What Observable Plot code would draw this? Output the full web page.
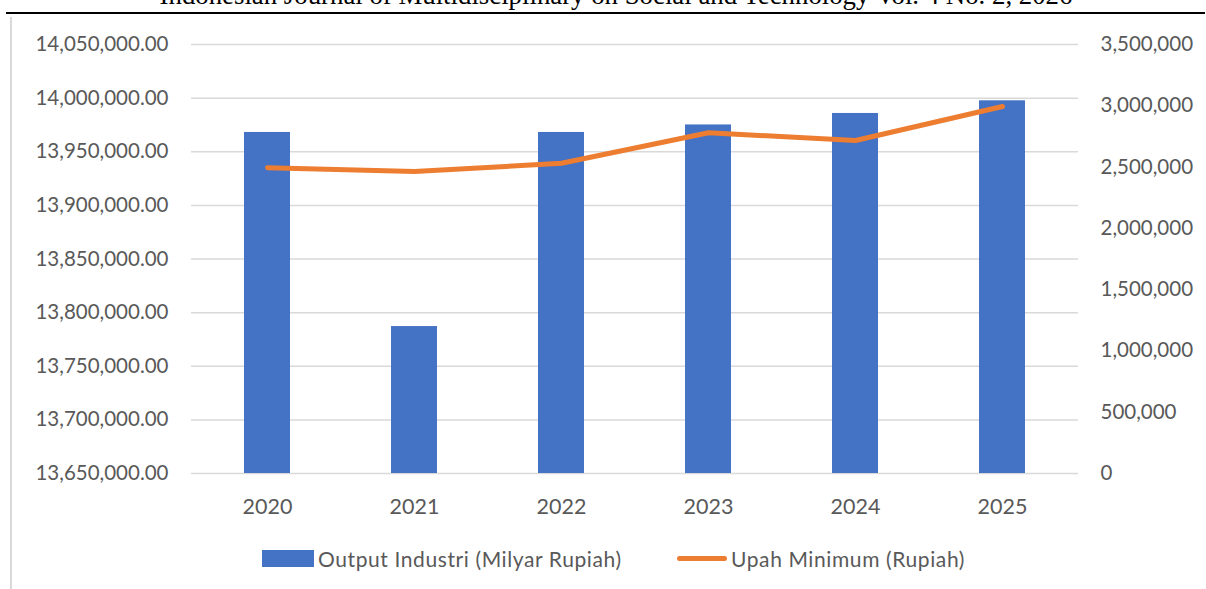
<!DOCTYPE html>
<html>
<head>
<meta charset="utf-8">
<script src="https://cdn.jsdelivr.net/npm/d3@7"></script>
<script src="https://cdn.jsdelivr.net/npm/@observablehq/plot@0.6"></script>
<style>
  html, body { margin: 0; padding: 0; background: #fff; width: 1206px; height: 589px; overflow: hidden; }
  #header { position: absolute; left: 0; width: 1232px; top: -20px; text-align: center;
            font-family: "Liberation Serif", "Times New Roman", serif; font-size: 26.8px; color: #000; white-space: nowrap; }
  #rule { position: absolute; left: 6px; right: 1px; top: 12px; height: 2px; background: #000; }
  #border { position: absolute; left: 10px; top: 17px; width: 2px; bottom: 0; background: #d9d9d9; }
  #chart { position: absolute; left: 0; top: 0; }
  #legend { position: relative; height: 59px; font-family: Lato, "Open Sans", sans-serif; font-size: 21px; letter-spacing: 0.6px; color: #595959; }
  .lg { position: absolute; top: 16px; display: flex; align-items: center; white-space: nowrap; }
  .sw-bar { width: 52px; height: 17px; background: #4472C4; margin-right: 4px; }
  .sw-line { width: 50px; height: 5px; border-radius: 3px; background: #ED7D31; margin-right: 4px; }
</style>
</head>
<body>
<div id="header">Indonesian Journal of Multidisciplinary on Social and Technology Vol. 4 No. 2, 2026</div>
<div id="rule"></div>
<div id="border"></div>
<div id="chart"></div>
<script>
const years = ["2020", "2021", "2022", "2023", "2024", "2025"];
const outputIndustri = [13968000, 13787000, 13968000, 13975000, 13985700, 13997500];
const upahMinimum = [2494000, 2464000, 2531000, 2780000, 2717000, 2994000];
const leftTicks = [13650000, 13700000, 13750000, 13800000, 13850000, 13900000, 13950000, 14000000, 14050000];
const rightTicks = [0, 500000, 1000000, 1500000, 2000000, 2500000, 3000000, 3500000];
const seriesNames = ["Output Industri (Milyar Rupiah)", "Upah Minimum (Rupiah)"];

const leftMin = 13650000, leftMax = 14050000, rightMax = 3500000;
const toLeft = w => leftMin + (w / rightMax) * (leftMax - leftMin);
const fromLeft = v => (v - leftMin) / (leftMax - leftMin) * rightMax;

const bars = years.map((y, i) => ({year: y, value: outputIndustri[i]}));
const line = years.map((y, i) => ({year: y, value: toLeft(upahMinimum[i])}));

const fmtLeft = d3.format(",.2f");
const fmtRight = d3.format(",");
const font = "Lato, 'Open Sans', sans-serif";

const plot = Plot.plot({
  width: 1206,
  height: 530,
  marginLeft: 191,
  marginRight: 128,
  marginTop: 44,
  marginBottom: 57,
  style: {fontFamily: font, fontSize: "20.5px", color: "#595959", background: "transparent"},
  x: {domain: years, paddingInner: 0.69, paddingOuter: 0.345, label: null},
  y: {domain: [leftMin, leftMax], label: null},
  marks: [
    Plot.ruleY(leftTicks, {stroke: "#d9d9d9", strokeWidth: 1.5}),
    Plot.barY(bars, {x: "year", y1: leftMin, y2: "value", fill: "#4472C4"}),
    Plot.line(line, {x: "year", y: "value", stroke: "#ED7D31", strokeWidth: 5, strokeLinecap: "round", strokeLinejoin: "round"}),
    Plot.axisY(leftTicks, {anchor: "left", tickSize: 0, tickPadding: 23, tickFormat: fmtLeft, label: null, fill: "#595959", fontSize: 20.5}),
    Plot.axisY(rightTicks.map(toLeft), {anchor: "right", tickSize: 0, tickPadding: 22, tickFormat: d => fmtRight(Math.round(fromLeft(d))), label: null, fill: "#595959", fontSize: 20.5}),
    Plot.axisX({tickSize: 0, tickPadding: 25, label: null, fill: "#595959", fontSize: 21.5})
  ]
});

const chart = document.getElementById("chart");
chart.appendChild(plot);
const legend = document.createElement("div");
legend.id = "legend";
legend.innerHTML = `<div class="lg" style="left:262px"><div class="sw-bar"></div><span>${seriesNames[0]}</span></div>
<div class="lg" style="left:677px"><div class="sw-line"></div><span>${seriesNames[1]}</span></div>`;
chart.appendChild(legend);
</script>
</body>
</html>
